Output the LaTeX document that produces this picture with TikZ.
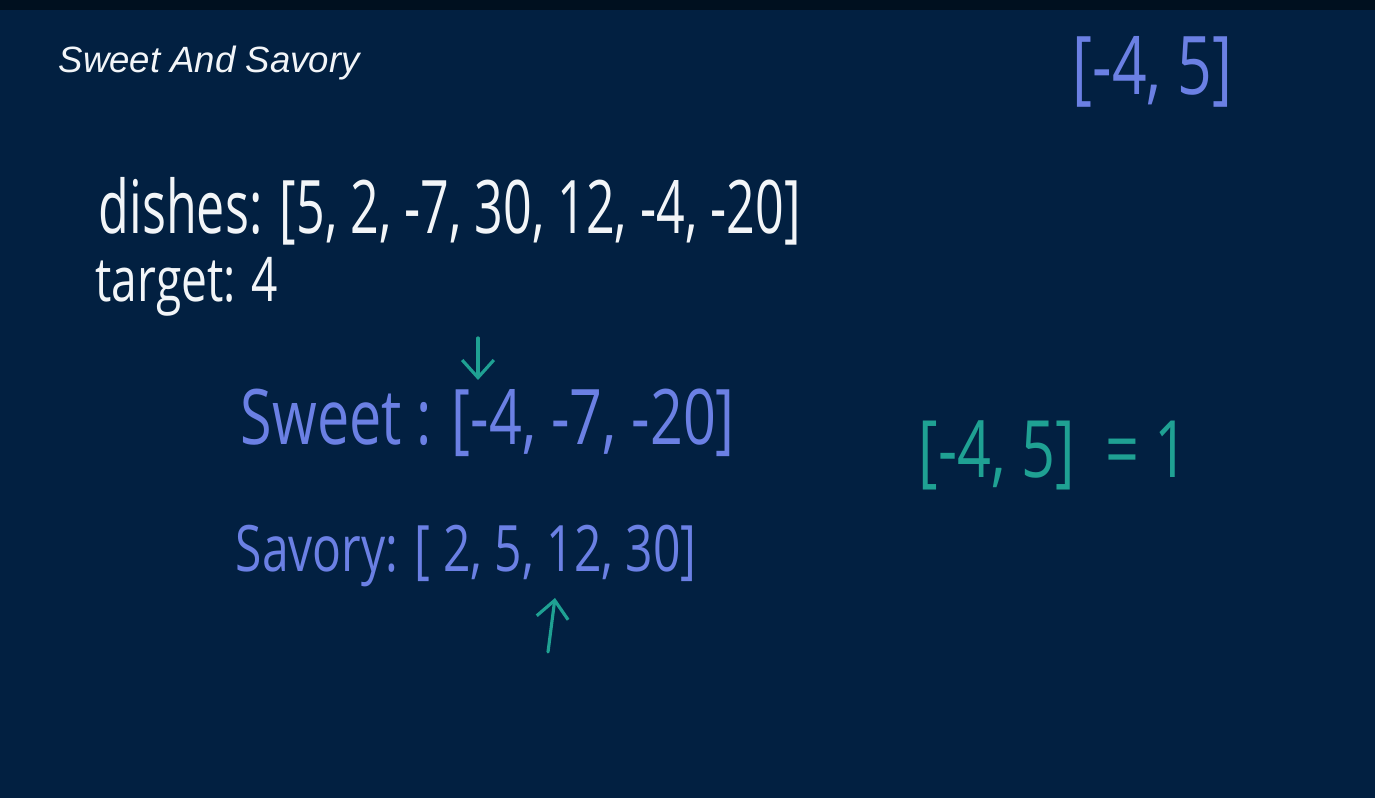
\documentclass[tikz,border=0pt]{standalone}
\usepackage{fontspec}
\setmainfont{Liberation Sans}
\newfontfamily\hand[FakeStretch=0.75]{Open Sans}
\newfontfamily\handnarrow[FakeStretch=0.68]{Open Sans}
\usetikzlibrary{arrows.meta,positioning}
\definecolor{board}{HTML}{022041}
\definecolor{boardtop}{HTML}{00101F}
\definecolor{chalk}{HTML}{F2F5F8}
\definecolor{penblue}{HTML}{6B80E4}
\definecolor{penteal}{HTML}{1FA193}
\begin{document}
\begin{tikzpicture}[x=0.01cm,y=-0.01cm,>={Straight Barb[length=5pt,width=9pt]},
    hand/.style={anchor=base west, inner sep=0pt},
    pointer/.style={->, penteal, line width=0.9pt, line cap=round}]
    % board
    \fill[board] (0,0) rectangle (1375,798);
    \fill[boardtop] (0,0) rectangle (1375,10);
    \node (title) [hand, text=chalk, font=\itshape\fontsize{10.4}{12}\selectfont] at (58,73) {Sweet And Savory};
    \node (answer) [hand, text=penblue, font=\hand\fontsize{23}{27}\selectfont] at (1072,95) {[-4, 5]};

    % input
    \node (dishes) [hand, text=chalk, font=\handnarrow\fontsize{21}{24}\selectfont] at (98,234) {dishes: [5, 2, -7, 30, 12, -4, -20]};
    \node (target) [hand, text=chalk, font=\hand\fontsize{17.5}{20}\selectfont] at (95,302) {target: 4};

    % split lists
    \node (sweet) [hand, text=penblue, font=\hand\fontsize{21.8}{25}\selectfont] at (240,445) {Sweet : [-4, -7, -20]};
    \node (savory) [hand, text=penblue, font=\hand\fontsize{18.2}{22}\selectfont] at (235,572) {Savory: [ 2, 5, 12, 30]};
    \node (pair) [hand, text=penteal, font=\hand\fontsize{22.5}{26}\selectfont] at (918,478) {[-4, 5]\ \ = 1};

    % pointers
    \coordinate (sweettop) at (478,338);
    \coordinate (sweethead) at (478,380);
    \coordinate (savorytail) at (548,652);
    \coordinate (savoryhead) at (555,598);
    \draw[pointer] (sweettop) -- (sweethead);
    \draw[pointer] (savorytail) -- (savoryhead);
\end{tikzpicture}
\end{document}
